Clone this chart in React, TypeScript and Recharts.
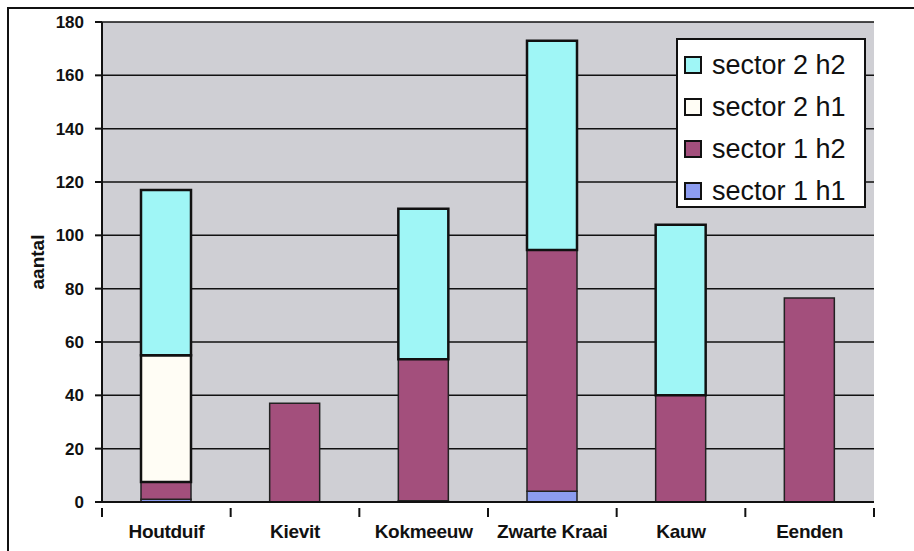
import {
  Bar,
  BarChart,
  CartesianGrid,
  Legend,
  XAxis,
  YAxis,
} from "recharts";

const categories = ["Houtduif", "Kievit", "Kokmeeuw", "Zwarte Kraai", "Kauw", "Eenden"];
const sector1h1 = [1, 0, 0.5, 4, 0, 0];
const sector1h2 = [6.5, 37, 53, 90.5, 40, 76.5];
const sector2h1 = [47.5, 0, 0, 0, 0, 0];
const sector2h2 = [62, 0, 56.5, 78.5, 64, 0];
const yTicks = [0, 20, 40, 60, 80, 100, 120, 140, 160, 180];

const data = categories.map((name, i) => ({
  name,
  s1h1: sector1h1[i],
  s1h2: sector1h2[i],
  s2h1: sector2h1[i],
  s2h2: sector2h2[i],
}));

const FONT = "'Liberation Sans', Arial, sans-serif";

const LegendBox = ({ payload }: any) => {
  const items = [...(payload || [])].reverse();
  return (
    <div
      style={{
        border: "2px solid #111",
        background: "#fff",
        fontFamily: FONT,
        fontSize: 27,
        color: "#111",
        padding: "4px 0 0 6px",
        boxSizing: "border-box",
        height: 170,
        textAlign: "left",
      }}
    >
      {items.map((p: any) => (
        <div key={p.value} style={{ display: "flex", alignItems: "center", height: 42 }}>
          <span
            style={{
              display: "inline-block",
              width: 14,
              height: 14,
              border: "2px solid #111",
              background: p.color,
              marginRight: 10,
            }}
          />
          <span>{p.value}</span>
        </div>
      ))}
    </div>
  );
};

// category label plus tick marks at the band boundaries (Excel style)
const CategoryTick = ({ x, y, payload, index, visibleTicksCount }: any) => {
  const half = payload.offset || 0;
  const last = index === visibleTicksCount - 1;
  return (
    <g>
      <line x1={x - half} y1={y - 2} x2={x - half} y2={y + 7} stroke="#111" strokeWidth={2} />
      {last && <line x1={x + half} y1={y - 2} x2={x + half} y2={y + 7} stroke="#111" strokeWidth={2} />}
      <text
        x={x}
        y={y + 28}
        textAnchor="middle"
        fontFamily={FONT}
        fontWeight="bold"
        fontSize={19}
        letterSpacing={-0.3}
        fill="#111"
      >
        {payload.value}
      </text>
    </g>
  );
};

const AxisTitle = ({ viewBox }: any) => {
  const x = viewBox.x + 2;
  const y = viewBox.y + viewBox.height / 2;
  return (
    <text
      x={x}
      y={y}
      transform={`rotate(-90, ${x}, ${y})`}
      textAnchor="middle"
      fontFamily={FONT}
      fontWeight="bold"
      fontSize={19}
      fill="#111"
    >
      aantal
    </text>
  );
};

export default function App() {
  return (
    <div style={{ position: "absolute", left: 0, top: 0, width: 914, height: 551, background: "#fff" }}>
      <div
        style={{
          position: "absolute",
          left: 7,
          top: 7,
          width: 914,
          height: 551,
          borderTop: "2px solid #111",
          borderLeft: "2px solid #111",
        }}
      />
      <BarChart
        width={914}
        height={551}
        data={data}
        margin={{ top: 22, right: 40, bottom: 19, left: 42 }}
        style={{ position: "absolute", left: 0, top: 0 }}
      >
        <CartesianGrid
          vertical={false}
          stroke="#111"
          strokeWidth={1.5}
          fill="#cfcfd4"
          fillOpacity={1}
        />
        <XAxis
          dataKey="name"
          height={30}
          interval={0}
          axisLine={{ stroke: "#111", strokeWidth: 2 }}
          tickLine={false}
          tick={<CategoryTick />}
        />
        <YAxis
          domain={[0, 180]}
          ticks={yTicks}
          width={60}
          tickSize={7}
          tickMargin={11}
          axisLine={{ stroke: "#111", strokeWidth: 2 }}
          tickLine={{ stroke: "#111", strokeWidth: 2 }}
          tick={{ fontFamily: FONT, fontWeight: "bold", fontSize: 17, fill: "#111" }}
          label={<AxisTitle />}
        />
        <Legend
          layout="horizontal"
          verticalAlign="middle"
          align="center"
          wrapperStyle={{ top: 38, left: 676, width: 190 }}
          content={<LegendBox />}
        />
        <Bar dataKey="s1h1" name="sector 1 h1" stackId="a" barSize={50} fill="#8c9cf0" stroke="#222" strokeWidth={1.5} isAnimationActive={false} />
        <Bar dataKey="s1h2" name="sector 1 h2" stackId="a" barSize={50} fill="#a34f7c" stroke="#222" strokeWidth={1.5} isAnimationActive={false} />
        <Bar dataKey="s2h1" name="sector 2 h1" stackId="a" barSize={50} fill="#fffdf5" stroke="#111" strokeWidth={2.5} isAnimationActive={false} />
        <Bar dataKey="s2h2" name="sector 2 h2" stackId="a" barSize={50} fill="#9ff6f6" stroke="#111" strokeWidth={2.5} isAnimationActive={false} />
      </BarChart>
    </div>
  );
}
